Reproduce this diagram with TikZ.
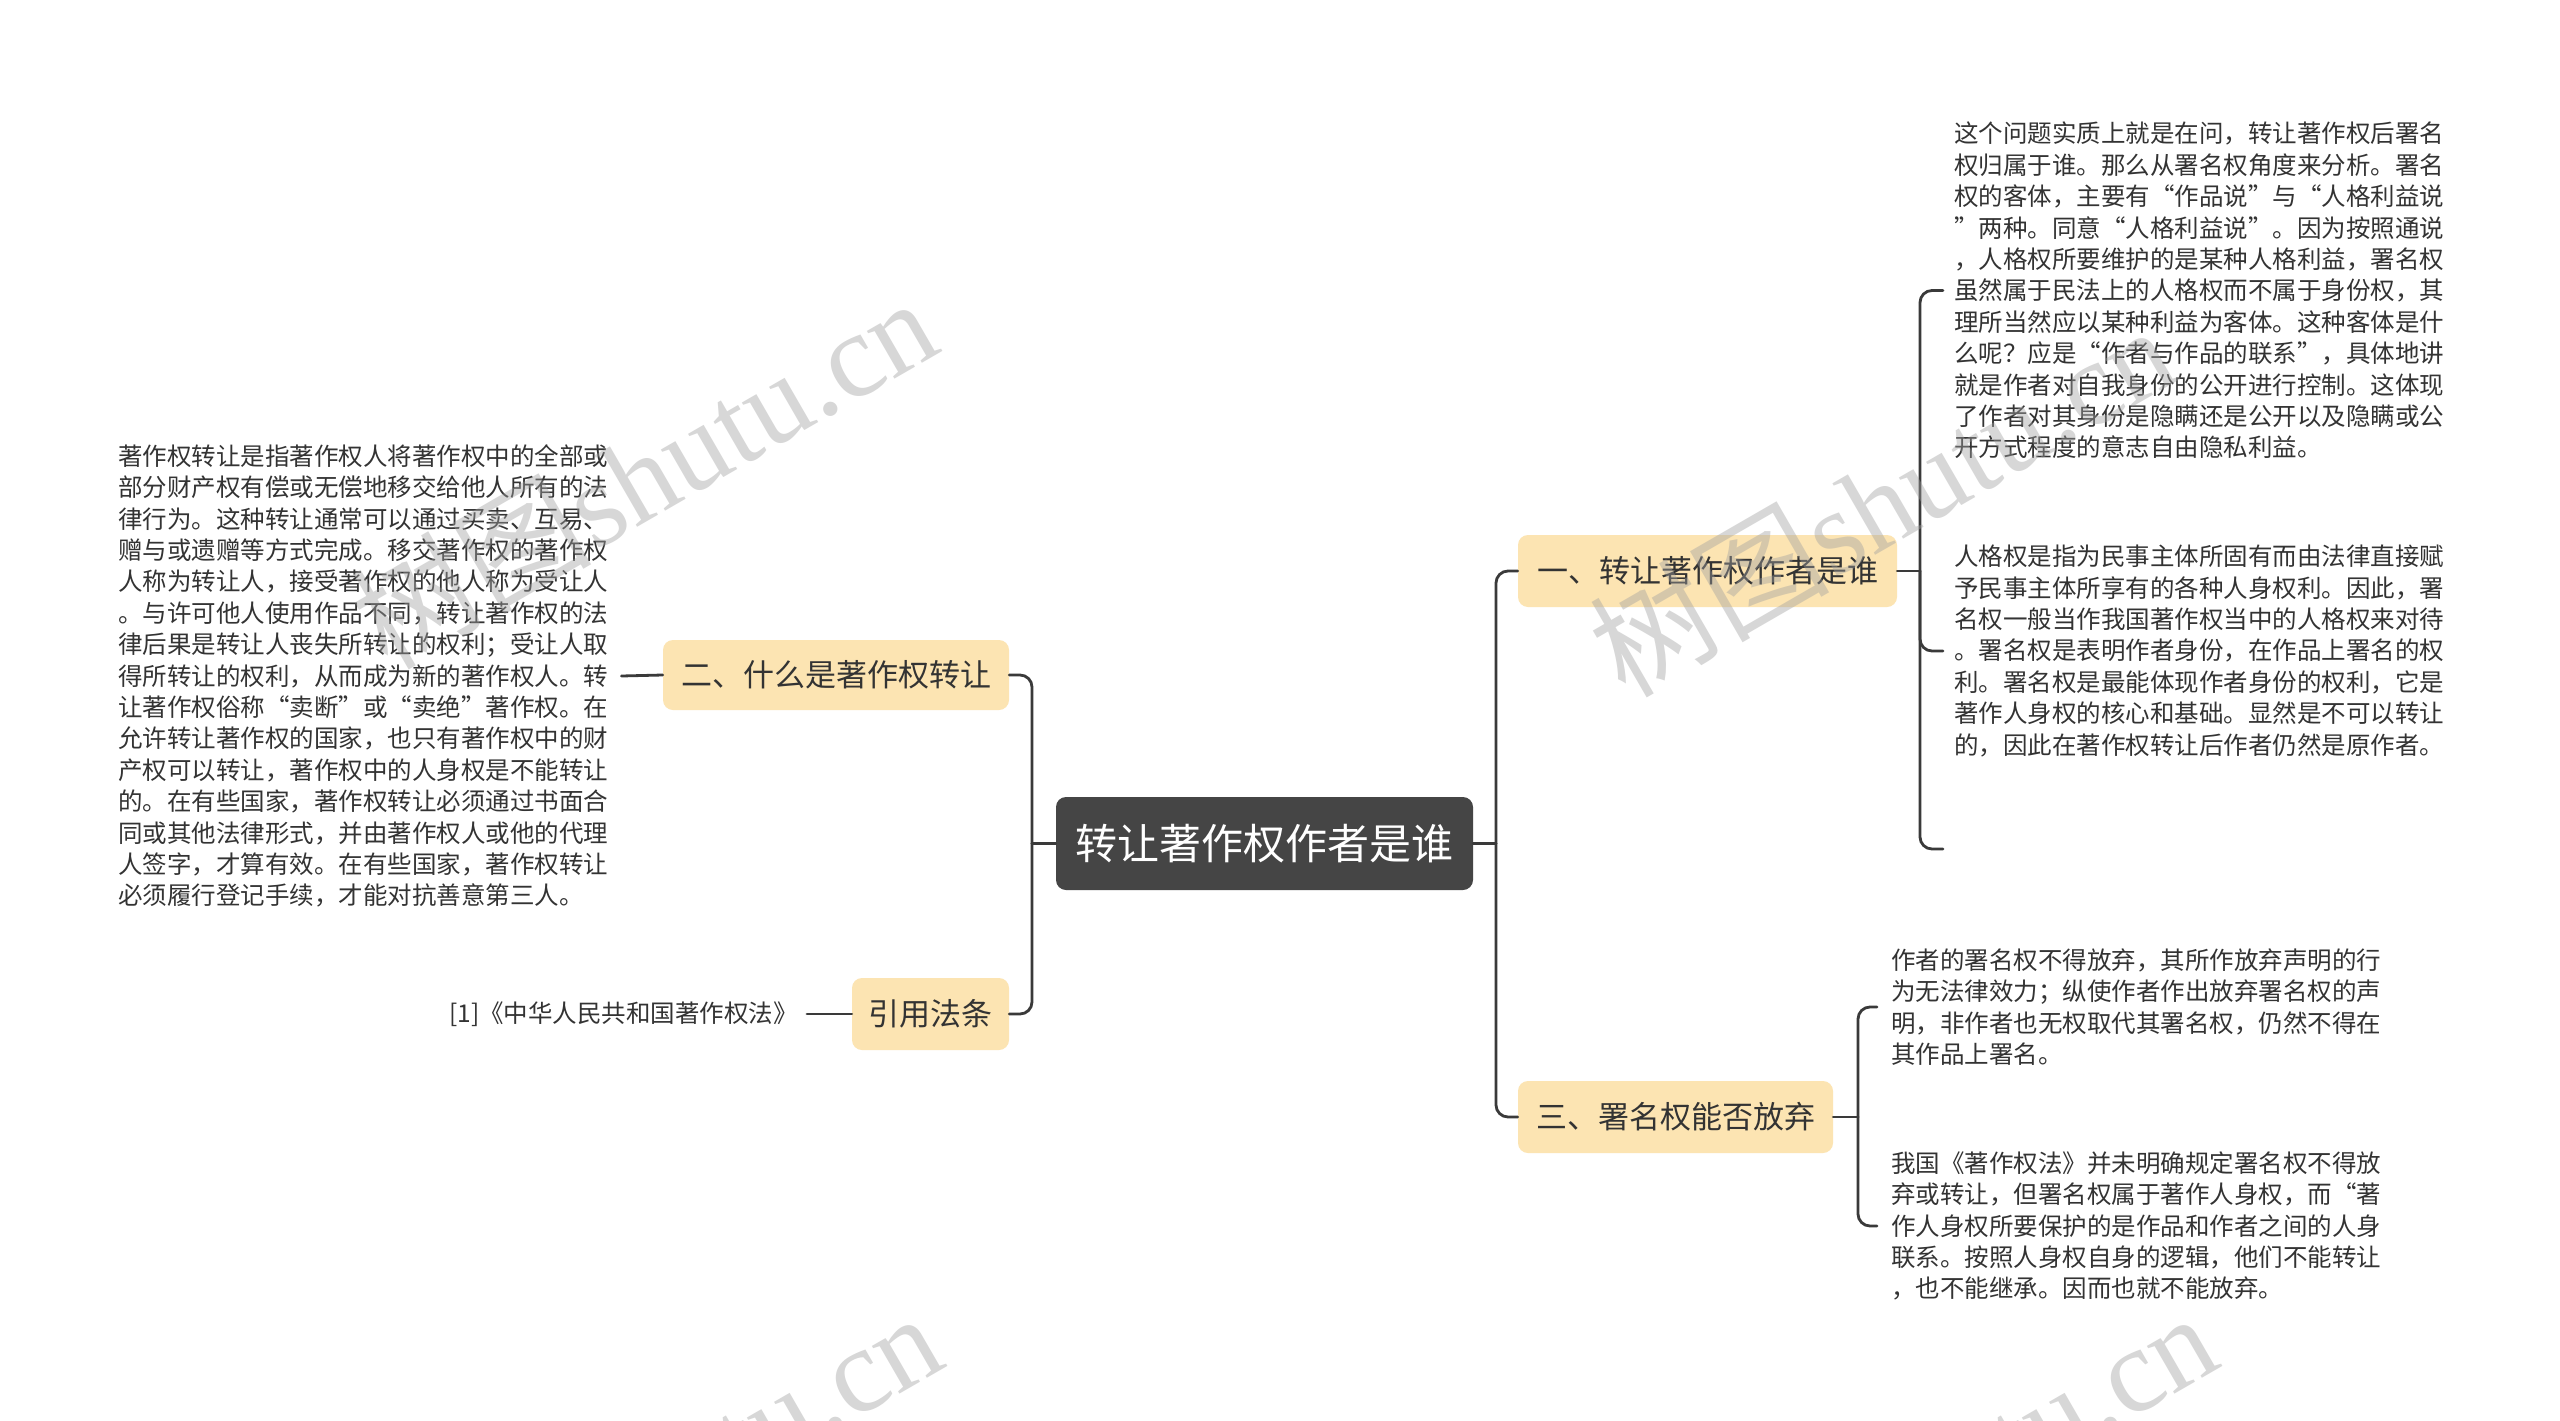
\documentclass[tikz,border=0pt]{standalone}
\usepackage{fontspec}
\newfontfamily\cjk{Noto Sans CJK SC}
\newfontfamily\wmserif{Liberation Serif}
\definecolor{nodefill}{HTML}{FCE4B2}
\definecolor{rootfill}{HTML}{454545}
\definecolor{linec}{HTML}{3A3A3A}
\definecolor{txt}{HTML}{333333}
\definecolor{wmc}{HTML}{A0A0A0}
\begin{document}
\begin{tikzpicture}[x=1pt,y=-1pt,
  topic/.style={fill=nodefill, rounded corners=10pt, text=txt, font=\cjk\fontsize{31}{36}\selectfont, inner sep=0pt, minimum height=72pt},
  rootnode/.style={fill=rootfill, rounded corners=10pt, text=white, font=\cjk\fontsize{42}{48}\selectfont, inner sep=0pt, minimum height=93pt, minimum width=417pt},
  body/.style={text=txt, font=\cjk\fontsize{24.5}{31.4}\selectfont, align=left, inner sep=0pt},
  conn/.style={draw=linec, line width=2.8pt, rounded corners=12pt, line cap=round},
  wmark/.style={text=wmc, opacity=0.42, rotate=30, inner sep=0pt, font=\wmserif\fontsize{120}{120}\selectfont}
]
\useasboundingbox (0,0) rectangle (2560,1421);
\fill[white] (0,0) rectangle (2560,1421);

% central and main topics
\node[rootnode] (root) at (1264.5,843.5) {转让著作权作者是谁};
\node[topic, minimum width=379pt] (t1) at (1707.5,571) {一、转让著作权作者是谁};
\node[topic, minimum width=315pt] (t3) at (1675.5,1117) {三、署名权能否放弃};
\node[topic, minimum width=346pt, minimum height=70pt] (t2) at (836,675) {二、什么是著作权转让};
\node[topic, minimum width=157pt] (t4) at (930.5,1014) {引用法条};

% text blocks
\node[body, anchor=west] (b1) at (1954,290.5) {这个问题实质上就是在问，转让著作权后署名\\
权归属于谁。那么从署名权角度来分析。署名\\
权的客体，主要有“作品说”与“人格利益说\\
”两种。同意“人格利益说”。因为按照通说\\
，人格权所要维护的是某种人格利益，署名权\\
虽然属于民法上的人格权而不属于身份权，其\\
理所当然应以某种利益为客体。这种客体是什\\
么呢？应是“作者与作品的联系”，具体地讲\\
就是作者对自我身份的公开进行控制。这体现\\
了作者对其身份是隐瞒还是公开以及隐瞒或公\\
开方式程度的意志自由隐私利益。};

\node[body, anchor=west] (b2) at (1954,651) {人格权是指为民事主体所固有而由法律直接赋\\
予民事主体所享有的各种人身权利。因此，署\\
名权一般当作我国著作权当中的人格权来对待\\
。署名权是表明作者身份，在作品上署名的权\\
利。署名权是最能体现作者身份的权利，它是\\
著作人身权的核心和基础。显然是不可以转让\\
的，因此在著作权转让后作者仍然是原作者。};

\node[body, anchor=west] (b3) at (1891,1007) {作者的署名权不得放弃，其所作放弃声明的行\\
为无法律效力；纵使作者作出放弃署名权的声\\
明，非作者也无权取代其署名权，仍然不得在\\
其作品上署名。};

\node[body, anchor=west] (b4) at (1891,1226) {我国《著作权法》并未明确规定署名权不得放\\
弃或转让，但署名权属于著作人身权，而“著\\
作人身权所要保护的是作品和作者之间的人身\\
联系。按照人身权自身的逻辑，他们不能转让\\
，也不能继承。因而也就不能放弃。};

\node[body, anchor=west] (lt) at (118,676) {著作权转让是指著作权人将著作权中的全部或\\
部分财产权有偿或无偿地移交给他人所有的法\\
律行为。这种转让通常可以通过买卖、互易、\\
赠与或遗赠等方式完成。移交著作权的著作权\\
人称为转让人，接受著作权的他人称为受让人\\
。与许可他人使用作品不同，转让著作权的法\\
律后果是转让人丧失所转让的权利；受让人取\\
得所转让的权利，从而成为新的著作权人。转\\
让著作权俗称“卖断”或“卖绝”著作权。在\\
允许转让著作权的国家，也只有著作权中的财\\
产权可以转让，著作权中的人身权是不能转让\\
的。在有些国家，著作权转让必须通过书面合\\
同或其他法律形式，并由著作权人或他的代理\\
人签字，才算有效。在有些国家，著作权转让\\
必须履行登记手续，才能对抗善意第三人。};

\node[body, anchor=east] (ref) at (798,1014) {[1]《中华人民共和国著作权法》};

% junctions and free ends
\coordinate (jl) at (1032,843.5);
\coordinate (jr) at (1496,843.5);
\coordinate (j1) at (1920,571);
\coordinate (j3) at (1858,1117);
\coordinate (e1) at ([xshift=-11pt]b1.west);
\coordinate (e2) at ([xshift=-11pt]b2.west);
\coordinate (e0) at (1943,849);
\coordinate (e3) at ([xshift=-14pt]b3.west);
\coordinate (e4) at ([xshift=-14pt]b4.west);

% connectors
\draw[conn] (root.west) -- (jl);
\draw[conn] (jl) |- (t2.east);
\draw[conn] (jl) |- (t4.east);
\draw[conn] (root.east) -- (jr);
\draw[conn] (jr) |- (t1.west);
\draw[conn] (jr) |- (t3.west);
\draw[conn] (t1.east) -- (j1);
\draw[conn] (j1) |- (e1);
\draw[conn] (j1) |- (e2);
\draw[conn] (j1) |- (e0);
\draw[conn] (t3.east) -- (j3);
\draw[conn] (j3) |- (e3);
\draw[conn] (j3) |- (e4);
\draw[conn] (t2.west) -- ([xshift=13pt]lt.east);
\draw[conn] (t4.west) -- ([xshift=9pt]ref.east);

% watermarks
\node[wmark, anchor=base east] (wa) at (945,350) {{\cjk 树图}shutu.cn};
\node[wmark, anchor=base west] (wb) at (1625,700) {{\cjk 树图}shutu.cn};
\node[wmark, anchor=base east] (wc) at (950,1365) {{\cjk 树图}shutu.cn};
\node[wmark, anchor=base east] (wd) at (2225,1365) {{\cjk 树图}shutu.cn};
\end{tikzpicture}
\end{document}
